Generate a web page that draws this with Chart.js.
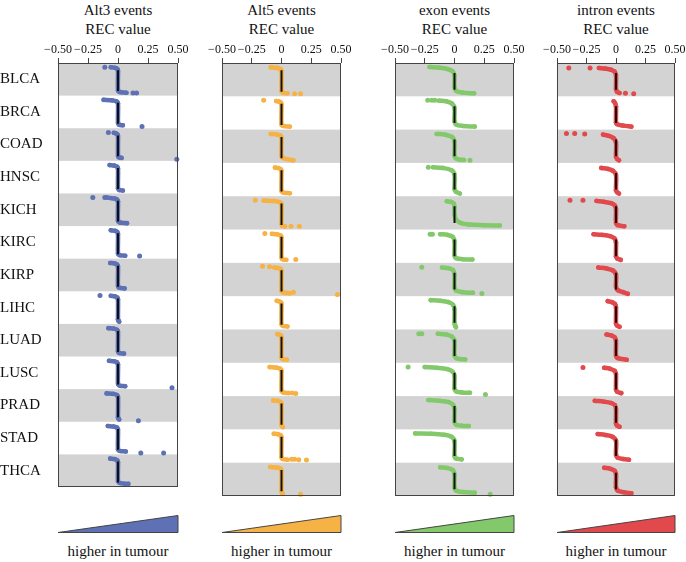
<!DOCTYPE html>
<html>
<head>
<meta charset="utf-8">
<script src="https://cdn.jsdelivr.net/npm/chart.js@4.4.1/dist/chart.umd.min.js"></script>
<style>
  html, body { margin: 0; padding: 0; background: #fff; overflow: hidden; }
  #wrap { position: relative; width: 686px; height: 562px; color: #111; }
  .title { position: absolute; top: 1px; text-align: center; font-family: "Liberation Serif", "Times New Roman", serif; font-size: 15px; line-height: 19px; }
  .foot { position: absolute; top: 543px; text-align: center; font-family: "Liberation Serif", "Times New Roman", serif; font-size: 15px; }
  canvas { position: absolute; top: 40px; }
  svg { position: absolute; left: 0; top: 0; }
</style>
</head>
<body>
<div id="wrap"></div>
<script>
// row labels, ticks
const categories = ['BLCA', 'BRCA', 'COAD', 'HNSC', 'KICH', 'KIRC', 'KIRP', 'LIHC', 'LUAD', 'LUSC', 'PRAD', 'STAD', 'THCA'];
const panelTitles = ['Alt3 events', 'Alt5 events', 'exon events', 'intron events'];
const xTickValues = [-0.5, -0.25, 0, 0.25, 0.5];
const xTickLabels = ['\u22120.50', '\u22120.25', '0', '0.25', '0.50'];
const footLabel = 'higher in tumour';

// each point: [REC value, rank position inside the row (0 = top, 1 = bottom)]
const alt3Curves = [
  [[-0.06,.13],[-0.027,.145],[-0.006,.18],[0,.24],[0,.84],[0.014,.89],[0.07,.91]],
  [[-0.12,.13],[-0.05,.145],[-0.01,.18],[0,.24],[0,.84],[0.008,.89],[0.04,.91]],
  [[-0.035,.14],[-0.015,.16],[-0.004,.19],[0,.24],[0,.84],[0.006,.89],[0.03,.91]],
  [[-0.07,.13],[-0.03,.145],[-0.007,.18],[0,.24],[0,.84],[0.008,.89],[0.04,.91]],
  [[-0.065,.14],[-0.028,.155],[-0.007,.19],[0,.24],[0,.84],[0.015,.89],[0.075,.91]],
  [[-0.06,.13],[-0.025,.145],[-0.006,.18],[0,.24],[0,.84],[0.012,.89],[0.06,.91]],
  [[-0.065,.13],[-0.028,.145],[-0.007,.18],[0,.24],[0,.84],[0.011,.89],[0.055,.91]],
  [[-0.06,.14],[-0.026,.155],[-0.006,.19],[0,.24],[0,.86],[0.003,.9],[0.01,.93]],
  [[-0.08,.13],[-0.035,.145],[-0.008,.18],[0,.24],[0,.84],[0.01,.89],[0.05,.91]],
  [[-0.075,.13],[-0.032,.145],[-0.008,.18],[0,.24],[0,.84],[0.012,.89],[0.06,.91]],
  [[-0.095,.13],[-0.04,.145],[-0.009,.18],[0,.24],[0,.86],[0.003,.9],[0.01,.93]],
  [[-0.085,.13],[-0.036,.145],[-0.008,.18],[0,.24],[0,.84],[0.013,.89],[0.065,.91]],
  [[-0.065,.13],[-0.027,.145],[-0.006,.18],[0,.24],[0,.82],[0.012,.87],[0.06,.9]]
];
const alt3Outliers = [
  [[-0.11,.13],[0.125,.92],[0.155,.92]],
  [[0.2,.95]],
  [[-0.08,.13],[0.49,.95]],
  [],
  [[-0.21,.12],[-0.11,.12],[-0.09,.12]],
  [[0.18,.92]],
  [],
  [[-0.15,.13]],
  [],
  [[0.45,.96]],
  [[0.17,.97]],
  [[0.19,.96],[0.38,.96]],
  [[0.085,.9]]
];

const alt5Curves = [
  [[-0.09,.13],[-0.04,.145],[-0.009,.18],[0,.24],[0,.84],[0.01,.89],[0.05,.91]],
  [[-0.045,.14],[-0.02,.16],[-0.005,.19],[0,.24],[0,.84],[0.014,.89],[0.07,.91]],
  [[-0.09,.13],[-0.04,.145],[-0.009,.18],[0,.24],[0,.8],[0.02,.86],[0.1,.92]],
  [[-0.055,.14],[-0.024,.155],[-0.006,.19],[0,.24],[0,.84],[0.014,.89],[0.07,.91]],
  [[-0.15,.13],[-0.065,.145],[-0.015,.18],[0,.24],[0,.84],[0.006,.89],[0.03,.91]],
  [[-0.08,.13],[-0.035,.145],[-0.008,.18],[0,.24],[0,.84],[0.008,.89],[0.04,.91]],
  [[-0.06,.14],[-0.026,.155],[-0.006,.19],[0,.24],[0,.84],[0.014,.89],[0.07,.91]],
  [[-0.04,.14],[-0.018,.16],[-0.004,.19],[0,.24],[0,.84],[0.01,.89],[0.05,.91]],
  [[-0.035,.14],[-0.015,.16],[-0.004,.19],[0,.24],[0,.84],[0.009,.89],[0.045,.91]],
  [[-0.1,.13],[-0.045,.145],[-0.01,.18],[0,.24],[0,.84],[0.012,.89],[0.06,.91]],
  [[-0.07,.13],[-0.03,.145],[-0.007,.18],[0,.24],[0,.86],[0.004,.9],[0.012,.93]],
  [[-0.065,.13],[-0.028,.145],[-0.007,.18],[0,.24],[0,.84],[0.01,.89],[0.05,.91]],
  [[-0.095,.13],[-0.04,.145],[-0.009,.18],[0,.24],[0,.86],[0.004,.9],[0.01,.93]]
];
const alt5Outliers = [
  [[0.11,.92],[0.16,.92]],
  [[-0.15,.12]],
  [],
  [],
  [[-0.22,.12],[0.08,.9],[0.15,.9]],
  [[-0.14,.12],[0.12,.9]],
  [[-0.16,.1],[-0.1,.12],[0.1,.88],[0.47,.95]],
  [],
  [],
  [[0.09,.91],[0.12,.92]],
  [],
  [[0.085,.9],[0.11,.9],[0.145,.91],[0.21,.92]],
  [[0.16,.95]]
];

const exonCurves = [
  [[-0.21,.12],[-0.13,.14],[-0.06,.18],[-0.015,.25],[0,.38],[0,.72],[0.015,.84],[0.07,.89],[0.165,.91]],
  [[-0.13,.13],[-0.07,.15],[-0.02,.22],[0,.35],[0,.75],[0.015,.85],[0.07,.89],[0.17,.91]],
  [[-0.15,.13],[-0.08,.15],[-0.02,.22],[0,.35],[0,.78],[0.01,.86],[0.04,.9],[0.08,.91]],
  [[-0.18,.13],[-0.1,.15],[-0.025,.22],[0,.35],[0,.78],[0.01,.86],[0.045,.92]],
  [[-0.065,.15],[-0.03,.17],[-0.006,.22],[0,.32],[0,.55],[0.012,.7],[0.05,.8],[0.12,.85],[0.25,.87],[0.38,.88]],
  [[-0.12,.14],[-0.06,.16],[-0.015,.22],[0,.35],[0,.78],[0.015,.86],[0.07,.89],[0.15,.9]],
  [[-0.105,.14],[-0.05,.16],[-0.012,.22],[0,.35],[0,.75],[0.015,.84],[0.07,.88],[0.155,.9]],
  [[-0.2,.12],[-0.12,.14],[-0.05,.18],[-0.012,.26],[0,.4],[0,.8],[0.005,.88],[0.012,.93]],
  [[-0.14,.13],[-0.07,.15],[-0.02,.22],[0,.35],[0,.78],[0.015,.86],[0.05,.89],[0.09,.9]],
  [[-0.25,.13],[-0.15,.15],[-0.06,.19],[-0.015,.27],[0,.4],[0,.78],[0.015,.86],[0.06,.89],[0.13,.9]],
  [[-0.22,.12],[-0.13,.14],[-0.05,.18],[-0.012,.26],[0,.4],[0,.78],[0.015,.86],[0.06,.89],[0.12,.9]],
  [[-0.33,.12],[-0.2,.13],[-0.09,.16],[-0.025,.22],[0,.35],[0,.8],[0.01,.87],[0.06,.9]],
  [[-0.12,.14],[-0.06,.16],[-0.015,.22],[0,.35],[0,.75],[0.015,.84],[0.07,.88],[0.17,.9]]
];
const exonOutliers = [
  [],
  [[-0.225,.12],[-0.19,.12],[-0.165,.12]],
  [[0.13,.92]],
  [[-0.22,.13]],
  [],
  [[-0.205,.14],[-0.185,.14]],
  [[-0.275,.13],[0.23,.92]],
  [],
  [[-0.3,.13],[-0.275,.13]],
  [[-0.39,.13],[0.26,.95]],
  [],
  [],
  [[0.3,.95]]
];

const intronCurves = [
  [[-0.145,.15],[-0.09,.17],[-0.045,.2],[-0.012,.26],[0,.36],[0,.78],[0.008,.86],[0.03,.9]],
  [[-0.02,.15],[-0.008,.2],[0,.3],[0,.78],[0.01,.84],[0.06,.88],[0.13,.91]],
  [[-0.11,.15],[-0.06,.19],[-0.02,.26],[0,.38],[0,.82],[0.01,.88],[0.025,.92]],
  [[-0.125,.15],[-0.07,.18],[-0.025,.24],[0,.36],[0,.82],[0.01,.88],[0.025,.92]],
  [[-0.165,.14],[-0.1,.17],[-0.04,.21],[-0.01,.28],[0,.38],[0,.8],[0.015,.87],[0.07,.9]],
  [[-0.19,.14],[-0.12,.16],[-0.05,.2],[-0.012,.27],[0,.38],[0,.8],[0.01,.87],[0.04,.91]],
  [[-0.15,.14],[-0.08,.17],[-0.025,.23],[0,.35],[0,.72],[0.015,.82],[0.06,.88],[0.1,.93]],
  [[-0.07,.15],[-0.035,.18],[-0.008,.24],[0,.34],[0,.82],[0.008,.88],[0.03,.92]],
  [[-0.08,.15],[-0.04,.18],[-0.01,.24],[0,.34],[0,.78],[0.015,.86],[0.09,.91]],
  [[-0.1,.15],[-0.05,.18],[-0.012,.24],[0,.34],[0,.8],[0.01,.87],[0.045,.91]],
  [[-0.18,.14],[-0.1,.17],[-0.04,.21],[-0.01,.27],[0,.38],[0,.82],[0.008,.88],[0.03,.92]],
  [[-0.155,.14],[-0.09,.17],[-0.03,.22],[0,.34],[0,.76],[0.015,.85],[0.06,.89],[0.11,.91]],
  [[-0.1,.15],[-0.05,.18],[-0.012,.24],[0,.34],[0,.74],[0.015,.84],[0.07,.89],[0.13,.92]]
];
const intronOutliers = [
  [[-0.4,.15],[-0.22,.15],[0.08,.91],[0.15,.92]],
  [],
  [[-0.42,.12],[-0.35,.12],[-0.265,.13]],
  [],
  [[-0.39,.12],[-0.28,.12]],
  [],
  [],
  [],
  [],
  [[-0.28,.14]],
  [],
  [],
  []
];

// span of the black median segment inside each row, per panel
const blackSpans = [[0.22, 0.86], [0.22, 0.86], [0.3, 0.8], [0.3, 0.8]];

const panels = [
  { curves: alt3Curves, outliers: alt3Outliers, color: '#5d71b4', box: [58, 178] },
  { curves: alt5Curves, outliers: alt5Outliers, color: '#f6b244', box: [222, 341] },
  { curves: exonCurves, outliers: exonOutliers, color: '#83c96c', box: [395, 514] },
  { curves: intronCurves, outliers: intronOutliers, color: '#e2494c', box: [557, 675] }
];

const wrap = document.getElementById('wrap');

const bandPlugin = {
  id: 'bands',
  beforeDatasetsDraw(chart) {
    const { ctx, chartArea, scales } = chart;
    ctx.save();
    ctx.fillStyle = '#d3d3d3';
    for (let i = 0; i < categories.length; i += 2) {
      const y0 = scales.y.getPixelForValue(i);
      const y1 = scales.y.getPixelForValue(i + 1);
      ctx.fillRect(chartArea.left, y0, chartArea.right - chartArea.left, y1 - y0);
    }
    ctx.restore();
  },
  afterDraw(chart) {
    const { ctx, chartArea } = chart;
    ctx.save();
    ctx.strokeStyle = '#444';
    ctx.lineWidth = 1;
    ctx.strokeRect(Math.round(chartArea.left) + 0.5, Math.round(chartArea.top) + 0.5,
      Math.round(chartArea.right - chartArea.left) - 1, Math.round(chartArea.bottom - chartArea.top) - 1);
    ctx.restore();
  }
};

panels.forEach(function (p, k) {
  const first = k === 0;
  const last = k === panels.length - 1;
  const padL = first ? 0 : 20;
  const padR = last ? 14 : 20;
  const left = first ? 0 : p.box[0] - padL;
  const width = p.box[1] - left + padR;

  const title = document.createElement('div');
  title.className = 'title';
  title.style.left = (p.box[0] - 30) + 'px';
  title.style.width = (p.box[1] - p.box[0] + 60) + 'px';
  title.innerHTML = panelTitles[k] + '<br>REC value';
  wrap.appendChild(title);

  const foot = document.createElement('div');
  foot.className = 'foot';
  foot.style.left = (p.box[0] - 30) + 'px';
  foot.style.width = (p.box[1] - p.box[0] + 60) + 'px';
  foot.textContent = footLabel;
  wrap.appendChild(foot);

  const canvas = document.createElement('canvas');
  canvas.width = width;
  canvas.height = 460;
  canvas.style.left = left + 'px';
  canvas.style.width = width + 'px';
  canvas.style.height = '460px';
  wrap.appendChild(canvas);

  const datasets = [];
  const span = blackSpans[k];
  categories.forEach(function (c, i) {
    datasets.push({
      type: 'line',
      data: [{ x: 0, y: i + span[0] }, { x: 0, y: i + span[1] }],
      borderColor: '#111',
      borderWidth: 2,
      pointRadius: 0,
      order: 0
    });
    datasets.push({
      type: 'line',
      data: p.curves[i].map(function (d) { return { x: d[0], y: i + d[1] }; }),
      borderColor: p.color,
      borderWidth: 4.5,
      borderCapStyle: 'round',
      tension: 0.35,
      pointRadius: 2.3,
      pointBorderWidth: 0,
      pointBackgroundColor: p.color,
      order: 1
    });
    datasets.push({
      type: 'scatter',
      data: p.outliers[i].map(function (d) { return { x: d[0], y: i + d[1] }; }),
      backgroundColor: p.color,
      pointRadius: 2.5,
      pointBorderWidth: 0,
      clip: false,
      order: 1
    });
  });

  new Chart(canvas.getContext('2d'), {
    type: 'scatter',
    data: { datasets: datasets },
    options: {
      responsive: false,
      animation: false,
      devicePixelRatio: 1,
      layout: { padding: { left: padL, right: padR, top: 0, bottom: 0 } },
      plugins: { legend: { display: false }, tooltip: { enabled: false } },
      scales: {
        x: {
          type: 'linear',
          position: 'top',
          min: -0.5,
          max: 0.5,
          afterBuildTicks: function (scale) {
            scale.ticks = xTickValues.map(function (v) { return { value: v }; });
          },
          afterFit: function (scale) { scale.height = 23; },
          ticks: {
            autoSkip: false,
            maxRotation: 0,
            padding: 1,
            color: '#111',
            font: { family: 'Liberation Serif', size: 12 },
            callback: function (v, i) { return xTickLabels[i]; }
          },
          grid: { drawOnChartArea: false, tickLength: 5, color: '#444' },
          border: { display: false }
        },
        y: {
          type: 'linear',
          display: first,
          min: 0,
          max: categories.length,
          reverse: true,
          afterBuildTicks: function (scale) {
            scale.ticks = categories.map(function (c, i) { return { value: i + 0.5 }; });
          },
          afterFit: function (scale) { scale.width = first ? 58 : 0; },
          ticks: {
            autoSkip: false,
            crossAlign: 'far',
            padding: 4,
            color: '#111',
            font: { family: 'Liberation Serif', size: 15 },
            callback: function (v, i) { return categories[i]; }
          },
          grid: { display: false },
          border: { display: false }
        }
      }
    },
    plugins: [bandPlugin]
  });
});

// wedge keys under each panel
const svgNS = 'http://www.w3.org/2000/svg';
const svg = document.createElementNS(svgNS, 'svg');
svg.setAttribute('width', 686);
svg.setAttribute('height', 562);
panels.forEach(function (p) {
  const poly = document.createElementNS(svgNS, 'polygon');
  const l = p.box[0], r = p.box[1];
  poly.setAttribute('points', l + ',532.5 ' + r + ',515.5 ' + r + ',532.5');
  poly.setAttribute('fill', p.color);
  poly.setAttribute('stroke', '#444');
  poly.setAttribute('stroke-width', '1');
  svg.appendChild(poly);
});
wrap.appendChild(svg);
</script>
</body>
</html>
